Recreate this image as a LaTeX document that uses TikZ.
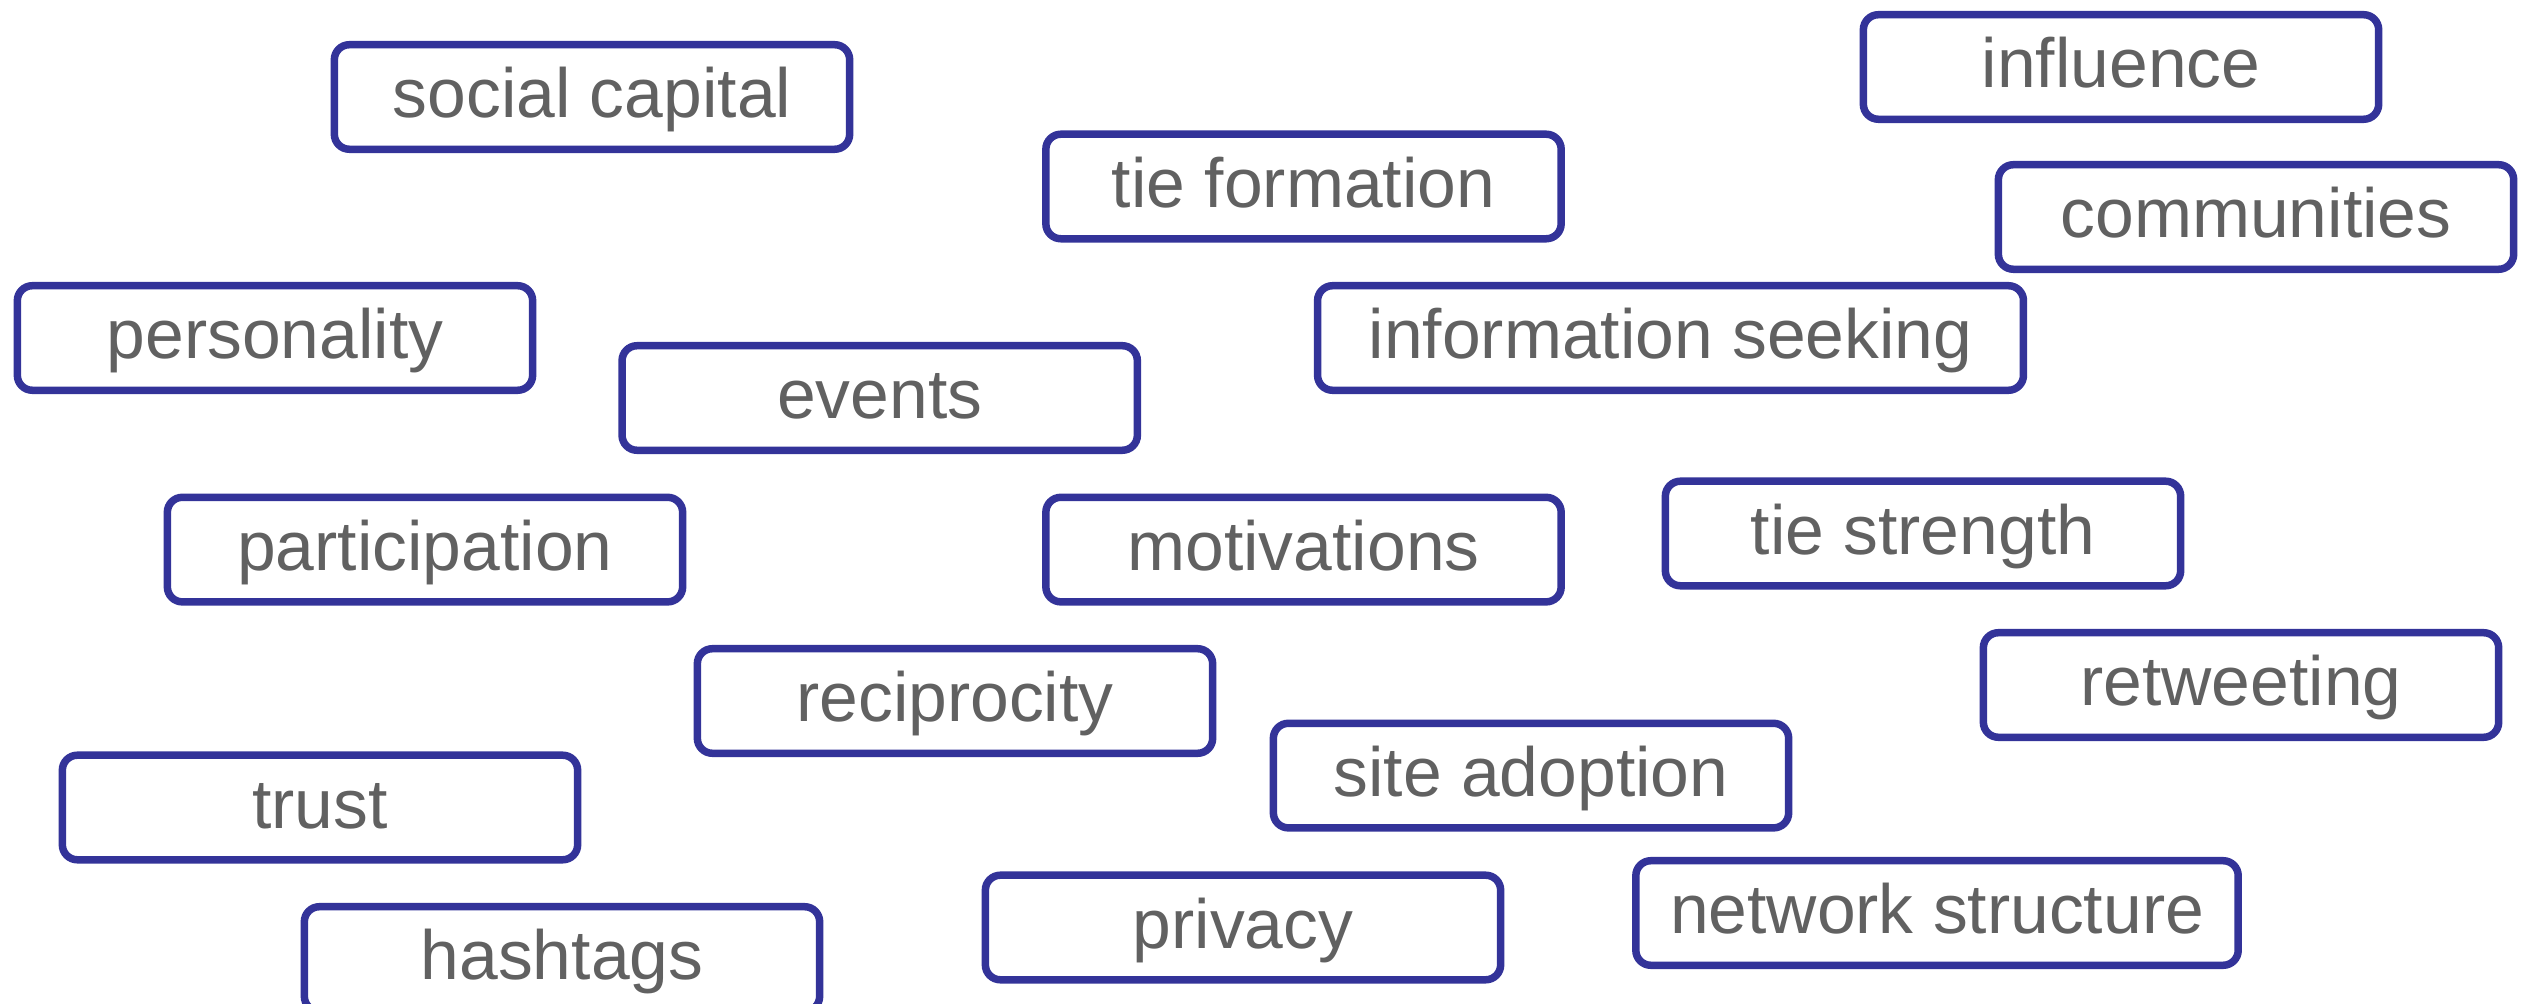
\documentclass[tikz,border=0pt]{standalone}
\usepackage{fontspec}
\setmainfont{Liberation Sans}
\definecolor{boxblue}{HTML}{333399}
\definecolor{labelgray}{HTML}{616161}
\begin{document}
\begin{tikzpicture}[x=0.01cm,y=-0.01cm,
  topic/.style={draw=boxblue, line width=2.13pt, rounded corners=0.15cm,
    fill=white, text=labelgray, inner sep=0pt,
    minimum width=5.15cm, minimum height=1.045cm,
    text height=14.8pt, text depth=3pt,
    font=\fontsize{19.8pt}{23pt}\selectfont},
  boxwidth/.style={minimum width=#1}]
  % page frame
  \fill[white] (0,0) rectangle (2531,1004);
  \useasboundingbox (0,0) rectangle (2531,1004);

  % topic boxes
  \node[topic] (social)       at (592, 97)     {social capital};
  \node[topic] (influence)    at (2121, 67)    {influence};
  \node[topic] (tieform)      at (1303.5, 186.5) {tie formation};
  \node[topic] (communities)  at (2256, 217)   {communities};
  \node[topic] (personality)  at (275, 338)    {personality};
  \node[topic, boxwidth=7.055cm] (infoseek) at (1670.5, 338) {information seeking};
  \node[topic] (events)       at (879.7, 398)  {events};
  \node[topic] (participation) at (425, 549.6) {participation};
  \node[topic] (motivations)  at (1303.5, 549.6) {motivations};
  \node[topic] (tiestrength)  at (1923, 533.5) {tie strength};
  \node[topic] (retweeting)   at (2241, 685)   {retweeting};
  \node[topic] (reciprocity)  at (955, 701)    {reciprocity};
  \node[topic] (siteadopt)    at (1531, 775.6) {site adoption};
  \node[topic] (trust)        at (320, 807.5)  {trust};
  \node[topic, boxwidth=6.02cm] (netstruct) at (1937, 913) {network structure};
  \node[topic] (privacy)      at (1243, 927.5) {privacy};
  \node[topic] (hashtags)     at (562, 959)    {hashtags};
\end{tikzpicture}
\end{document}
